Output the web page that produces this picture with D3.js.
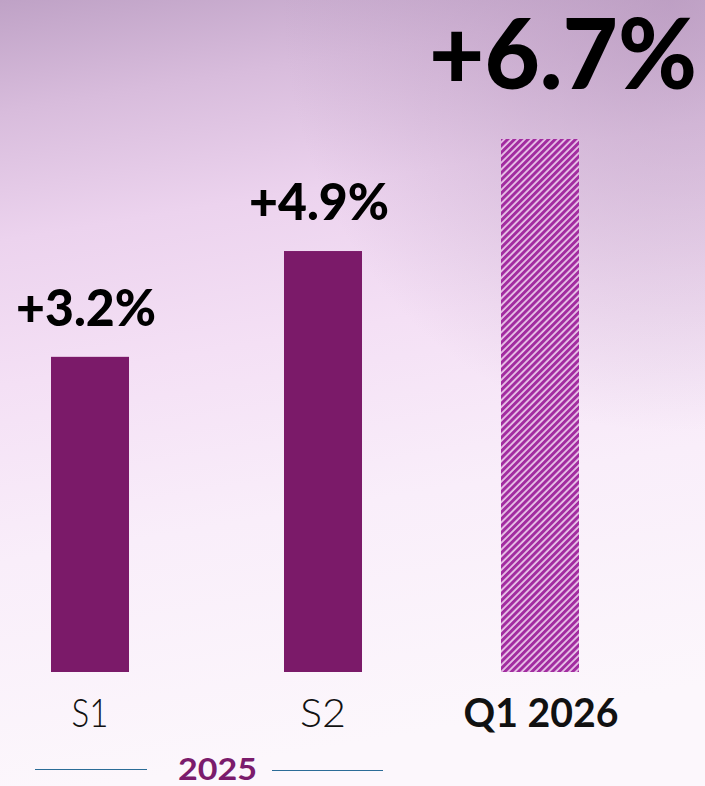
<!DOCTYPE html>
<html>
<head>
<meta charset="utf-8">
<script src="https://cdn.jsdelivr.net/npm/d3@7"></script>
<style>
  html, body { margin: 0; padding: 0; background: #fbf3fb; }
  svg { display: block; }
</style>
</head>
<body>
<script>
// chart data
const categories = ["S1", "S2", "Q1 2026"];
const values = [3.2, 4.9, 6.7];
const valueLabels = ["+3.2%", "+4.9%", "+6.7%"];
const groupLabel = "2025";

const w = 705;
const h = 786;
const baseline = 672;

const svg = d3.select("body")
  .append("svg")
  .attr("width", w)
  .attr("height", h);

const defs = svg.append("defs");

// background gradient
const bg = defs.append("linearGradient")
  .attr("id", "bg")
  .attr("x1", 0).attr("y1", 0).attr("x2", 0.15).attr("y2", 1);
[["0%", "#bfa2c6"], ["14%", "#d8bcdc"], ["30%", "#ecd3ee"], ["48%", "#f4e0f5"], ["70%", "#f9eefa"], ["100%", "#fcf7fc"]]
  .forEach(s => bg.append("stop").attr("offset", s[0]).attr("stop-color", s[1]));

const glow = defs.append("radialGradient")
  .attr("id", "glow")
  .attr("cx", 0.95).attr("cy", 0).attr("r", 0.55);
glow.append("stop").attr("offset", "0%").attr("stop-color", "#a888b0").attr("stop-opacity", 0.55);
glow.append("stop").attr("offset", "100%").attr("stop-color", "#a888b0").attr("stop-opacity", 0);

// hatch for forecast bar
const hatch = defs.append("pattern")
  .attr("id", "hatch")
  .attr("patternUnits", "userSpaceOnUse")
  .attr("width", 4.8)
  .attr("height", 4.8)
  .attr("patternTransform", "rotate(45)");
hatch.append("rect").attr("width", 4.8).attr("height", 4.8).attr("fill", "#e9c4e9");
hatch.append("rect").attr("width", 3).attr("height", 4.8).attr("fill", "#a22ca0");

svg.append("rect").attr("width", w).attr("height", h).attr("fill", "url(#bg)");
svg.append("rect").attr("width", w).attr("height", h).attr("fill", "url(#glow)");

const xScale = d3.scaleBand()
  .domain(categories)
  .range([51, 579])
  .paddingInner(0.6533)
  .paddingOuter(0);

const yScale = d3.scaleLinear()
  .domain([0, 6.7])
  .range([556, 139]);

const data = categories.map((c, i) => ({ cat: c, value: values[i], label: valueLabels[i], last: i === categories.length - 1 }));

// middle bar sits a little right of the even spacing in the original
const nudge = d => d.cat === "S2" ? 8 : 0;

svg.selectAll("rect.bar")
  .data(data)
  .enter()
  .append("rect")
  .attr("class", "bar")
  .attr("x", d => xScale(d.cat) + nudge(d))
  .attr("y", d => yScale(d.value))
  .attr("width", xScale.bandwidth())
  .attr("height", d => baseline - yScale(d.value))
  .attr("fill", d => d.last ? "url(#hatch)" : "#7b1a69");

// value labels
svg.selectAll("text.val")
  .data(data)
  .enter()
  .append("text")
  .attr("class", "val")
  .attr("x", d => xScale(d.cat) + xScale.bandwidth() / 2 + nudge(d) + (d.last ? 23 : -4))
  .attr("y", d => yScale(d.value) - (d.last ? 50 : 31))
  .attr("text-anchor", "middle")
  .attr("font-family", "Lato, sans-serif")
  .attr("font-weight", 900)
  .attr("font-size", d => d.last ? 98 : 52)
  .attr("textLength", d => d.last ? 268 : 140)
  .attr("lengthAdjust", "spacingAndGlyphs")
  .attr("fill", "#000")
  .text(d => d.label);

// category labels
svg.selectAll("text.cat")
  .data(data)
  .enter()
  .append("text")
  .attr("class", "cat")
  .attr("x", d => xScale(d.cat) + xScale.bandwidth() / 2 + nudge(d) + (d.last ? 1 : 0))
  .attr("y", 727)
  .attr("text-anchor", "middle")
  .attr("font-family", "Lato, sans-serif")
  .attr("font-weight", d => d.last ? 700 : 300)
  .attr("font-size", 40)
  .attr("textLength", d => d.last ? 155 : (d.cat === "S1" ? 37 : 46))
  .attr("lengthAdjust", "spacingAndGlyphs")
  .attr("fill", "#111")
  .text(d => d.cat);

// 2025 bracket
const g2025 = svg.append("g");
g2025.append("line")
  .attr("x1", 35).attr("x2", 147).attr("y1", 769.5).attr("y2", 769.5)
  .attr("stroke", "#2b6c97").attr("stroke-width", 1.2);
g2025.append("line")
  .attr("x1", 272).attr("x2", 383).attr("y1", 770.5).attr("y2", 770.5)
  .attr("stroke", "#2b6c97").attr("stroke-width", 1.2);
g2025.append("text")
  .attr("x", 217.5)
  .attr("y", 780)
  .attr("text-anchor", "middle")
  .attr("font-family", "Lato, sans-serif")
  .attr("font-weight", 700)
  .attr("font-size", 31)
  .attr("textLength", 79)
  .attr("lengthAdjust", "spacingAndGlyphs")
  .attr("fill", "#7b1c6c")
  .text(groupLabel);
</script>
</body>
</html>
